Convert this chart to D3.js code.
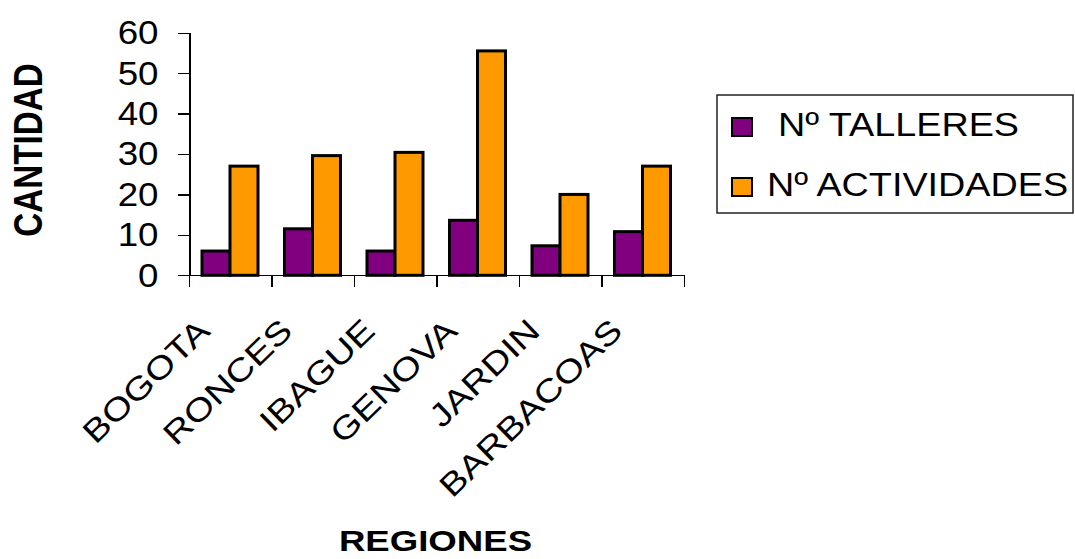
<!DOCTYPE html>
<html>
<head>
    <meta charset="utf-8">
    <title>Talleres y actividades por region</title>
    <style>
        body { margin: 0; background: #fff; }
        text { font-family: "Liberation Sans", Arial, sans-serif; fill: #000; }
        .bar { stroke: #000; stroke-width: 3px; }
        .axis line, .axis path { stroke: #000; stroke-width: 1.3px; shape-rendering: crispEdges; }
    </style>
</head>
<body>
    <div class="viz"></div>
    <script src="https://cdnjs.cloudflare.com/ajax/libs/d3/7.8.5/d3.min.js"></script>
    <script>
        // data
        var regions = ['BOGOTA', 'RONCES', 'IBAGUE', 'GENOVA', 'JARDIN', 'BARBACOAS'];
        var series = ['Nº TALLERES', 'Nº ACTIVIDADES'];
        var talleres = [6, 11.5, 6, 13.6, 7.3, 10.8];
        var actividades = [27, 29.6, 30.4, 55.5, 20, 27];
        var yTicks = [0, 10, 20, 30, 40, 50, 60];
        var colors = ['#800080', '#ff9900'];

        var width = 1075, height = 559;
        var plot = { left: 189.5, right: 684.5, top: 32.7, bottom: 275.3 };

        var svg = d3.select('.viz').append('svg')
            .attr('width', width)
            .attr('height', height);

        // stretch text along its run, the source picture is widened
        function stretch(sel, k) {
            sel.each(function () {
                var w = this.getComputedTextLength();
                d3.select(this).attr('textLength', w * k).attr('lengthAdjust', 'spacingAndGlyphs');
            });
        }

        var x0 = d3.scaleBand()
            .domain(regions)
            .range([plot.left, plot.right])
            .paddingInner(0).paddingOuter(0);

        var x1 = d3.scaleBand()
            .domain(series)
            .range([12.5, 68.5])
            .paddingInner(0);

        var y = d3.scaleLinear()
            .domain([0, 60])
            .range([plot.bottom, plot.top]);

        var rows = regions.map(function (r, i) {
            return { region: r, values: [talleres[i], actividades[i]] };
        });

        // bars
        var groups = svg.append('g').selectAll('g')
            .data(rows)
            .enter().append('g')
            .attr('transform', function (d) { return 'translate(' + x0(d.region) + ',0)'; });

        groups.selectAll('rect')
            .data(function (d) { return d.values.map(function (v, j) { return { s: series[j], v: v, j: j }; }); })
            .enter().append('rect')
            .attr('class', 'bar')
            .attr('x', function (d) { return x1(d.s); })
            .attr('width', x1.bandwidth())
            .attr('y', function (d) { return y(d.v); })
            .attr('height', function (d) { return y(0) - y(d.v); })
            .attr('fill', function (d) { return colors[d.j]; });

        // y axis
        var yAxis = svg.append('g')
            .attr('class', 'axis')
            .attr('transform', 'translate(' + plot.left + ',0)')
            .call(d3.axisLeft(y).tickValues(yTicks).tickSize(12).tickSizeOuter(0).tickPadding(19));
        yAxis.selectAll('text')
            .attr('font-size', '34px')
            .attr('font-family', '"Liberation Sans", Arial, sans-serif')
            .attr('fill', '#000')
            .attr('dy', '0.32em')
            .call(stretch, 1.08);

        // x axis line and ticks on category edges
        var xAxis = svg.append('g').attr('class', 'axis');
        xAxis.append('line')
            .attr('x1', plot.left - 12).attr('x2', plot.right)
            .attr('y1', y(0)).attr('y2', y(0));
        xAxis.selectAll('.xt')
            .data(regions.concat(['end']))
            .enter().append('line')
            .attr('class', 'xt')
            .attr('x1', function (d, i) { return plot.left + i * x0.step(); })
            .attr('x2', function (d, i) { return plot.left + i * x0.step(); })
            .attr('y1', y(0))
            .attr('y2', y(0) + 11.5);

        // category labels
        svg.append('g').selectAll('text')
            .data(regions)
            .enter().append('text')
            .attr('font-size', '32px')
            .attr('text-anchor', 'end')
            .attr('transform', function (d) {
                return 'translate(' + (x0(d) + x0.bandwidth() / 2 - 19) + ',333) rotate(-44)';
            })
            .text(function (d) { return d; })
            .call(stretch, 1.2);

        // axis titles
        svg.append('text')
            .attr('font-size', '30px')
            .attr('font-weight', 'bold')
            .attr('text-anchor', 'middle')
            .attr('x', 435.5)
            .attr('y', 551)
            .text('REGIONES')
            .call(stretch, 1.22);

        svg.append('text')
            .attr('font-size', '40px')
            .attr('font-weight', 'bold')
            .attr('text-anchor', 'middle')
            .attr('transform', 'translate(42,150) rotate(-90)')
            .text('CANTIDAD')
            .call(stretch, 0.83);

        // legend
        var legend = svg.append('g');
        legend.append('rect')
            .attr('x', 717).attr('y', 95)
            .attr('width', 356).attr('height', 118)
            .attr('fill', '#fff')
            .attr('stroke', '#222')
            .attr('stroke-width', 1.5);

        var items = legend.selectAll('.item')
            .data(series)
            .enter().append('g')
            .attr('class', 'item')
            .attr('transform', function (d, i) { return 'translate(0,' + (i * 60) + ')'; });

        items.append('rect')
            .attr('x', 732).attr('y', 118)
            .attr('width', 20).attr('height', 18)
            .attr('fill', function (d, i) { return colors[i]; })
            .attr('stroke', '#000')
            .attr('stroke-width', 2);

        items.append('text')
            .attr('x', function (d, i) { return i === 0 ? 778 : 767; })
            .attr('y', 136)
            .attr('font-size', '34px')
            .text(function (d) { return d; })
            .call(stretch, 1.11);
    </script>
</body>
</html>
